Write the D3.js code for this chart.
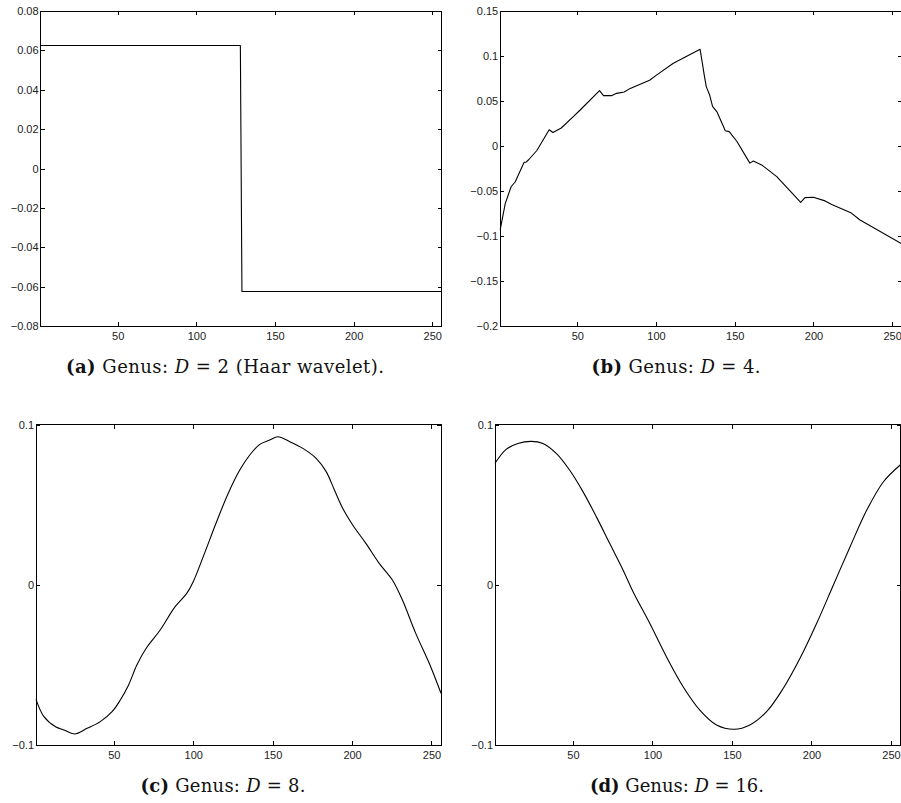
<!DOCTYPE html>
<html>
<head>
<meta charset="utf-8">
<script src="https://cdn.jsdelivr.net/npm/d3@7"></script>
<style>
  html, body { margin: 0; padding: 0; background: #fff; }
  svg { display: block; }
  .tick text { font-family: "Liberation Sans", Arial, sans-serif; font-size: 11px; fill: #222; }
  .cap { font-family: "DejaVu Serif", "Liberation Serif", serif; font-size: 18px; fill: #111; }
</style>
</head>
<body>
<svg id="chart" width="901" height="803"></svg>
<script>
// ---------- data ----------
const xTicks = [50, 100, 150, 200, 250];
const xTickLabels = ["50", "100", "150", "200", "250"];

// (a) D = 2 (Haar)
const xA = [1, 128, 129, 256];
const yA = [0.0625, 0.0625, -0.0625, -0.0625];
const yTicksA = [0.08, 0.06, 0.04, 0.02, 0, -0.02, -0.04, -0.06, -0.08];
const yLabelsA = ["0.08", "0.06", "0.04", "0.02", "0", "\u22120.02", "\u22120.04", "\u22120.06", "\u22120.08"];

// (b) D = 4
const xB = [1, 4.2, 8, 10.5, 16.2, 17.5, 19.2, 24.3, 32.1, 34.5, 39.8, 47.6, 51.8, 64.1, 66.6, 72, 75, 79.8, 83.6, 95.9, 100.5, 111, 128,
            129.8, 130.6, 131.9, 134, 135.9, 138.7, 144, 146.5, 151.4, 159.6, 161.8, 167.1, 176.7, 191.9, 194.6, 199.9, 207.4, 211.6, 223.7, 229.6, 256];
const yB = [-0.093, -0.064, -0.045, -0.040, -0.018, -0.018, -0.015, -0.005, 0.018, 0.015, 0.020, 0.033, 0.040, 0.0615, 0.056, 0.056, 0.0585, 0.060, 0.064, 0.073, 0.079, 0.092, 0.1074,
            0.088, 0.079, 0.066, 0.057, 0.044, 0.038, 0.017, 0.016, 0.005, -0.019, -0.0167, -0.021, -0.034, -0.0626, -0.0574, -0.057, -0.061, -0.065, -0.0741, -0.0822, -0.1085];
const yTicksB = [0.15, 0.1, 0.05, 0, -0.05, -0.1, -0.15, -0.2];
const yLabelsB = ["0.15", "0.1", "0.05", "0", "\u22120.05", "\u22120.1", "\u22120.15", "\u22120.2"];

// (c) D = 8
const xC = [1, 6, 13.3, 18.6, 25.2, 33.2, 41.5, 48.9, 54.1, 59.3, 64.5, 70.8, 79.2, 88.6, 95.9, 100, 106.3, 114.7, 122, 129.3, 135.6, 141.9,
            148.1, 153.3, 160.7, 169, 177.4, 183.7, 188.9, 194.1, 200.4, 208.7, 217.1, 225.4, 231.7, 240.1, 249.5, 256];
const yC = [-0.0715, -0.0823, -0.0886, -0.0906, -0.0931, -0.0896, -0.0854, -0.0792, -0.0719, -0.0625, -0.050, -0.039, -0.0282, -0.0136, -0.0053, 0.002, 0.0176, 0.0394, 0.0571, 0.0717, 0.0811, 0.0877,
            0.0904, 0.0925, 0.0894, 0.0852, 0.079, 0.0707, 0.0592, 0.0478, 0.0374, 0.0259, 0.0134, 0.003, -0.0095, -0.0303, -0.0511, -0.0677];
const yTicksC = [0.1, 0, -0.1];
const yLabelsC = ["0.1", "0", "\u22120.1"];

// (d) D = 16
const xD = [1, 8, 15.4, 23.8, 31.1, 39.5, 47.9, 56.3, 64.7, 73.1, 81.5, 87.8, 98.3, 108.8, 119.3, 129.8, 140.3, 151.5, 161.3, 171.8,
            182.3, 192.8, 203.3, 213.8, 224.3, 234.8, 245.3, 256];
const yD = [0.0759, 0.0846, 0.0883, 0.0896, 0.0883, 0.0821, 0.0717, 0.0582, 0.0426, 0.0259, 0.0093, -0.0043, -0.024, -0.0449, -0.0636, -0.0782, -0.0875, -0.0902, -0.0875, -0.0792,
            -0.0646, -0.0459, -0.024, -0.0001, 0.0238, 0.0467, 0.0644, 0.0750];
const yTicksD = [0.1, 0, -0.1];
const yLabelsD = ["0.1", "0", "\u22120.1"];

const captionLetters = ["(a)", "(b)", "(c)", "(d)"];
const captionValues = ["2", "4", "8", "16"];
const captionExtra = [" (Haar wavelet).", ".", ".", "."];

// ---------- layout ----------
const panels = [
  { x: xA, y: yA, yd: [-0.08, 0.08], yt: yTicksA, yl: yLabelsA, box: [40.6, 11, 441.7, 326], cx: 225, cy: 373, cw: 318, curve: d3.curveLinear },
  { x: xB, y: yB, yd: [-0.2, 0.15], yt: yTicksB, yl: yLabelsB, box: [500.2, 11, 901.6, 326], cx: 676, cy: 373, cw: 169, curve: d3.curveLinear },
  { x: xC, y: yC, yd: [-0.1, 0.1], yt: yTicksC, yl: yLabelsC, box: [36, 424.7, 441, 745], cx: 223, cy: 792, cw: 165, curve: d3.curveCatmullRom },
  { x: xD, y: yD, yd: [-0.1, 0.1], yt: yTicksD, yl: yLabelsD, box: [495, 424.7, 900.5, 745], cx: 677, cy: 792, cw: 174, curve: d3.curveCatmullRom }
];

const svg = d3.select("#chart");

panels.forEach((p, i) => {
  const [l, t, r, b] = p.box;
  const xs = d3.scaleLinear().domain([1, 256]).range([l, r]);
  const ys = d3.scaleLinear().domain(p.yd).range([b, t]);
  const g = svg.append("g");

  const ax = (gen, tr, labels) => {
    const a = g.append("g").attr("transform", tr).call(gen);
    a.select(".domain").remove();
    a.selectAll(".tick line").attr("stroke", "#000").attr("shape-rendering", "crispEdges");
    if (!labels) a.selectAll(".tick text").remove();
    return a;
  };
  const bottom = ax(d3.axisBottom(xs).tickValues(xTicks).tickFormat((d, k) => xTickLabels[k]).tickSizeInner(-4).tickSizeOuter(0).tickPadding(5),
     `translate(0,${b})`, true);
  bottom.selectAll(".tick text").attr("dy", "0.8em");
  ax(d3.axisTop(xs).tickValues(xTicks).tickSizeInner(-4).tickSizeOuter(0), `translate(0,${t})`, false);
  ax(d3.axisLeft(ys).tickValues(p.yt).tickFormat((d, k) => p.yl[k]).tickSizeInner(-4).tickSizeOuter(0).tickPadding(2),
     `translate(${l},0)`, true);
  ax(d3.axisRight(ys).tickValues(p.yt).tickSizeInner(-4).tickSizeOuter(0), `translate(${r},0)`, false);

  g.append("rect")
    .attr("x", l).attr("y", t).attr("width", r - l).attr("height", b - t)
    .attr("fill", "none").attr("stroke", "#000").attr("stroke-width", 1)
    .attr("shape-rendering", "crispEdges");

  const pts = p.x.map((v, k) => [v, p.y[k]]);
  const line = d3.line().x(d => xs(d[0])).y(d => ys(d[1])).curve(p.curve);
  g.append("path").datum(pts)
    .attr("d", line)
    .attr("fill", "none").attr("stroke", "#000").attr("stroke-width", 1.1)
    .attr("stroke-linejoin", "round");

  const cap = g.append("text").attr("class", "cap")
    .attr("x", p.cx).attr("y", p.cy).attr("text-anchor", "middle")
    .attr("textLength", p.cw).attr("lengthAdjust", "spacing");
  cap.append("tspan").attr("font-weight", "bold").text(captionLetters[i]);
  cap.append("tspan").text(" Genus: ");
  cap.append("tspan").attr("font-style", "italic").text("D");
  cap.append("tspan").text(" = " + captionValues[i] + captionExtra[i]);
});
</script>
</body>
</html>
